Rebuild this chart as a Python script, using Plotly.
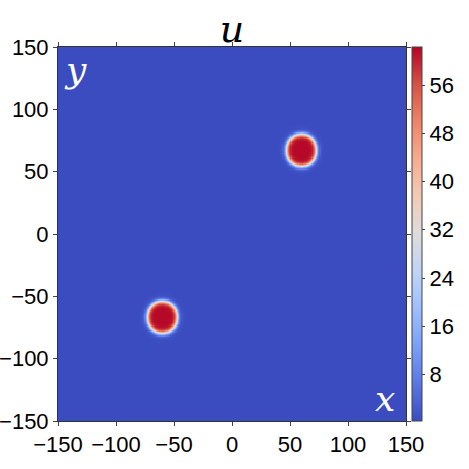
import numpy as np
import plotly.graph_objects as go

# --- data ---
spot_x = [60, -60]          # spot centres, x
spot_y = [67, -67]          # spot centres, y
spot_peak = [62.0, 62.0]    # plateau value
spot_radius = [13.0, 13.0]  # plateau radius
spot_width = [2.2, 2.2]     # edge width
background = 0.3
cbar_ticks = [8, 16, 24, 32, 40, 48, 56]
axis_ticks = [-150, -100, -50, 0, 50, 100, 150]

x = np.arange(-150, 151, 1.0)
y = np.arange(-150, 151, 1.0)
X, Y = np.meshgrid(x, y)
U = np.full_like(X, background)
for cx, cy, pk, R, w in zip(spot_x, spot_y, spot_peak, spot_radius, spot_width):
    r = np.hypot(X - cx, Y - cy)
    U += (pk - background) * 0.5 * (1 - np.tanh((r - R) / w))

coolwarm = [
    [0.0, "#3b4cc0"], [0.1, "#5977e3"], [0.2, "#7b9ff9"], [0.3, "#9ebeff"],
    [0.4, "#c0d4f5"], [0.5, "#dddcdc"], [0.6, "#f2cbb7"], [0.7, "#f7ac8e"],
    [0.8, "#ee8468"], [0.9, "#d65244"], [1.0, "#b40426"],
]

font = dict(family="Liberation Sans, Arial, sans-serif", size=22, color="black")

W = H = 469
fig = go.Figure(go.Heatmap(
    x=x, y=y, z=U, colorscale=coolwarm, zmin=0.3, zmax=62.3,
    colorbar=dict(
        thickness=10, len=1, lenmode="fraction", y=0.5, yanchor="middle",
        x=1.017, xanchor="left", xpad=0, ypad=0,
        outlinecolor="#444", outlinewidth=1,
        tickvals=cbar_ticks, ticks="outside", ticklen=3, tickcolor="#444",
        tickfont=font,
    ),
))

axis_common = dict(
    range=[-150, 150], tickvals=axis_ticks, ticks="outside", ticklen=4,
    tickcolor="#444", showline=True, linecolor="#333", linewidth=1,
    mirror="ticks", showgrid=False, zeroline=False, tickfont=font,
    automargin=False, tickangle=0,
)
fig.update_xaxes(**axis_common)
fig.update_yaxes(**axis_common)

fig.update_layout(
    width=W, height=H,
    margin=dict(l=58, r=W - 406, t=47, b=H - 421, autoexpand=False),
    paper_bgcolor="white", plot_bgcolor="white",
    title=dict(text="<i>u</i>", x=232 / W, xanchor="center",
               y=1 - 42 / H, yanchor="bottom",
               font=dict(family="DejaVu Serif", size=38, color="black")),
    annotations=[
        dict(text="<i>y</i>", x=0.012, y=1.0, xref="paper", yref="paper",
             xanchor="left", yanchor="top", showarrow=False,
             font=dict(family="DejaVu Serif", size=36, color="white")),
        dict(text="<i>x</i>", x=0.975, y=0.0, xref="paper", yref="paper",
             xanchor="right", yanchor="bottom", showarrow=False,
             font=dict(family="DejaVu Serif", size=36, color="white")),
    ],
)

fig.write_html("out.html",
               config={"displayModeBar": False},
               post_script="document.body.style.margin='0px';"
                           "document.body.style.overflow='hidden';")
